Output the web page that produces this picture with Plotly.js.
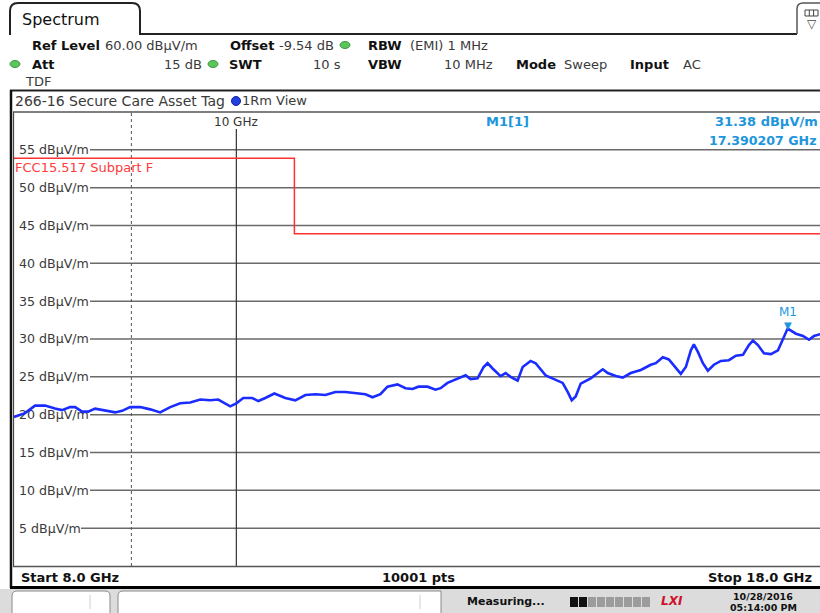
<!DOCTYPE html>
<html>
<head>
<meta charset="utf-8">
<script src="https://cdn.plot.ly/plotly-3.0.1.min.js"></script>
<style>
html,body{margin:0;padding:0;background:#fff;overflow:hidden;}
#chart{width:822px;height:613px;}
</style>
</head>
<body>
<div id="chart"></div>
<script>
// ---- data ----
const freqGHz = [8.000,8.089,8.171,8.253,8.336,8.395,8.463,8.506,8.566,8.618,8.678,8.766,8.855,8.917,8.989,9.080,9.172,9.264,9.358,9.452,9.548,9.644,9.742,9.820,9.890,9.939,10.000,10.070,10.161,10.223,10.295,10.389,10.504,10.610,10.717,10.826,10.935,11.045,11.157,11.270,11.383,11.464,11.556,11.638,11.755,11.850,11.934,12.006,12.115,12.213,12.275,12.361,12.461,12.549,12.587,12.650,12.740,12.817,12.868,12.933,13.037,13.103,13.169,13.262,13.329,13.436,13.504,13.640,13.778,13.875,13.945,14.002,14.058,14.129,14.271,14.372,14.445,14.517,14.635,14.738,14.857,15.007,15.158,15.235,15.342,15.435,15.544,15.622,15.701,15.780,15.828,15.892,15.972,16.052,16.149,16.263,16.394,16.510,16.627,16.727,16.795,16.879,16.981,17.101,17.222,17.326,17.390,17.536,17.660,17.767,17.856,18.000];
const levelDb = [19.7,20.2,21.2,21.2,20.8,20.6,21.0,21.0,20.4,20.4,20.8,20.6,20.3,20.5,21.0,21.0,20.7,20.3,21.0,21.5,21.6,22.0,21.9,22.0,21.4,21.1,21.5,22.2,22.2,21.8,22.2,22.8,22.2,21.9,22.6,22.7,22.6,23.0,23.0,22.8,22.7,22.3,22.7,23.7,24.0,23.5,23.4,23.7,23.7,23.3,23.5,24.2,24.6,25.0,25.2,24.7,24.8,26.3,26.8,26.1,25.1,25.5,25.0,24.5,26.3,27.1,26.8,25.2,24.6,24.2,23.0,21.9,22.4,24.1,24.8,25.5,26.0,25.5,25.1,24.9,25.5,25.9,26.6,26.8,27.6,27.3,26.1,25.4,26.3,28.5,29.3,28.3,26.8,25.8,26.6,27.1,27.2,27.8,27.9,29.2,29.8,29.2,28.1,28.0,28.5,30.3,31.38,30.7,30.4,29.9,30.4,30.7];

const limitFreq = [8.0, 10.6, 10.6, 18.0];
const limitLevel = [53.9, 53.9, 43.9, 43.9];
const limitLabel = "FCC15.517 Subpart F";

const gridLevels = [5,10,15,20,25,30,35,40,45,50,55];
const gridLabels = gridLevels.map(v => v + " dBµV/m");

const markerFreq = 17.390207;
const markerLevel = 31.38;
const markerName = "M1";

const startFreq = 8.0, stopFreq = 18.0;
const lineFreqSolid = 10.0;
const lineFreqDashed = 9.0;

// ---- geometry helpers ----
const W=822,H=613,L=14,T=112,PW=808,PH=454;
const px = x => (x - L) / PW;
const py = y => (T + PH - y) / PH;

const FONT = "DejaVu Sans, Verdana, sans-serif";
const annotations = [];
function txt(x, y, text, o) {
  o = o || {};
  annotations.push({
    xref:'paper', yref:'paper', x:px(x), y:py(y), text:text, showarrow:false,
    xanchor:o.anchor||'left', yanchor:'middle', borderpad:0,
    font:{family:FONT, size:o.size||13, color:o.color||'#3a3a3a', weight:o.bold?'bold':'normal'}
  });
}
const shapes = [];
function line(x0,y0,x1,y1,color,width,dash){
  shapes.push({type:'line',xref:'paper',yref:'paper',x0:px(x0),y0:py(y0),x1:px(x1),y1:py(y1),
    line:{color:color,width:width,dash:dash||'solid'}});
}
function rect(x0,y0,x1,y1,fill,lc,lw){
  shapes.push({type:'rect',xref:'paper',yref:'paper',x0:px(x0),y0:py(y0),x1:px(x1),y1:py(y1),
    fillcolor:fill,line:{color:lc||fill,width:lw||0}});
}
function pathP(points, color, width, fill){
  let d='';
  points.forEach(p=>{
    if(p[0]==='Q') d += 'Q'+px(p[1])+','+py(p[2])+' '+px(p[3])+','+py(p[4])+' ';
    else if(p[0]==='Z') d+='Z';
    else d += p[0]+px(p[1])+','+py(p[2])+' ';
  });
  shapes.push({type:'path',xref:'paper',yref:'paper',path:d,line:{color:color,width:width},fillcolor:fill||'rgba(0,0,0,0)'});
}
function dot(cx,cy,rx,ry,fill,lc){
  shapes.push({type:'circle',xref:'paper',yref:'paper',x0:px(cx-rx),x1:px(cx+rx),y0:py(cy+ry),y1:py(cy-ry),
    fillcolor:fill,line:{color:lc||fill,width:1}});
}

// ---- header ----
pathP([['M',10,35],['L',10,11],['Q',10,3,18,3],['L',132,3],['Q',140,3,140,11],['L',140,34],['L',797,34]],'#222',2);
pathP([['M',797,34],['L',797,9],['Q',797,3,803,3],['L',824,3]],'#555',1.5);
rect(805,10,818,16,'rgba(0,0,0,0)','#444',1);
line(809.3,10,809.3,16,'#444',1); line(813.6,10,813.6,16,'#444',1);
txt(811.5,24,'▽',{anchor:'center',size:12,color:'#444'});
txt(21,19,'Spectrum',{size:16,color:'#111'});

txt(31,45,'Ref Level',{bold:true,color:'#111'});
txt(104,45,'60.00 dBµV/m');
txt(229,45,'Offset',{bold:true,color:'#111'});
txt(278,45,'-9.54 dB');
dot(345,45,5,3.5,'#5cc45c','#3a9a3a');
txt(367,45,'RBW',{bold:true,color:'#111'});
txt(409,45,'(EMI) 1 MHz');

dot(15,64,5,3.5,'#5cc45c','#3a9a3a');
txt(31,64,'Att',{bold:true,color:'#111'});
txt(203,64,'15 dB',{anchor:'right'});
dot(213,64,5,3.5,'#5cc45c','#3a9a3a');
txt(228,64,'SWT',{bold:true,color:'#111'});
txt(342,64,'10 s',{anchor:'right'});
txt(367,64,'VBW',{bold:true,color:'#111'});
txt(494,64,'10 MHz',{anchor:'right'});
txt(515,64,'Mode',{bold:true,color:'#111'});
txt(563,64,'Sweep');
txt(629,64,'Input',{bold:true,color:'#111'});
txt(682,64,'AC');
txt(24,81,'TDF');

// graph window frame
line(10,90.5,824,90.5,'#222',2);
line(11,90,11,588,'#111',2.5);
line(13.6,112,13.6,566,'#333',1);
txt(14,101,'266-16 Secure Care Asset Tag',{size:14});
dot(236,101,4.5,4.5,'#2040e0','#10209a');
txt(241,101,'1Rm View');
line(13,112,824,112,'#555',1.5);
line(13,566.5,824,566.5,'#555',1.5);

// footer
txt(20,577,'Start ' + startFreq.toFixed(1) + ' GHz',{bold:true,color:'#111'});
txt(418,577,'10001 pts',{bold:true,color:'#111',anchor:'center'});
txt(813,577,'Stop ' + stopFreq.toFixed(1) + ' GHz',{bold:true,color:'#111',anchor:'right'});
line(10,587.5,824,587.5,'#000',3);

// status bar
rect(0,589,824,613,'#dcdcdc');
pathP([['M',12,614],['L',12,596],['Q',12,591,17,591],['L',105,591],['Q',110,591,110,596],['L',110,614]],'#8a8a8a',1,'#ffffff');
line(90,595,90,609,'#cfcfcf',1);
pathP([['M',118,614],['L',118,596],['Q',118,591,123,591],['L',441,591],['L',441,614]],'#8a8a8a',1,'#ffffff');
line(420,595,420,609,'#cfcfcf',1);
txt(466,601,'Measuring...',{bold:true,color:'#111',size:11});
for(let i=0;i<9;i++){
  const x0 = 570 + i*9;
  rect(x0,597,x0+8,607, i<2 ? '#111' : '#9c9c9c');
}
txt(672,601,'<i>LXI</i>',{bold:true,color:'#d0102a',size:12,anchor:'center'});
txt(763,596,'10/28/2016',{bold:true,color:'#111',size:9.5,anchor:'center'});
txt(763,607,'05:14:00 PM',{bold:true,color:'#111',size:9.5,anchor:'center'});

// ---- plot-area elements ----
gridLevels.forEach((v,i)=>{
  const startX = v < 10 ? 81 : 90;
  shapes.push({type:'line',xref:'paper',yref:'y',x0:px(startX),x1:1.02,y0:v,y1:v,layer:'below',
    line:{color:'#6a6a6a',width:1.5}});
});
shapes.push({type:'line',xref:'x',yref:'paper',x0:lineFreqDashed,x1:lineFreqDashed,y0:0,y1:1,layer:'below',
  line:{color:'#555',width:1,dash:'3px,3px'}});
shapes.push({type:'line',xref:'x',yref:'paper',x0:lineFreqSolid,x1:lineFreqSolid,y0:0,y1:py(129),layer:'below',
  line:{color:'#333',width:1.2}});
annotations.push({xref:'x',yref:'paper',x:Math.log10(lineFreqSolid),y:py(122),text:lineFreqSolid+' GHz',showarrow:false,
  xanchor:'center',yanchor:'middle',borderpad:0,font:{family:FONT,size:12,color:'#333'}});

// limit label
txt(14,168,limitLabel,{color:'#ff3b3b',size:13});

// marker info
const mc = '#1e96dc';
txt(485,122,markerName+'[1]',{color:mc,bold:true});
txt(714,122,markerLevel.toFixed(2)+' dBµV/m',{color:mc,bold:true});
txt(817,140,markerFreq.toFixed(6)+' GHz',{color:mc,bold:true,anchor:'right',size:12.6});

annotations.push({xref:'x',yref:'y',x:Math.log10(markerFreq),y:markerLevel,text:'▼',showarrow:false,
  xanchor:'center',yanchor:'bottom',yshift:-3,borderpad:0,font:{family:FONT,size:10,color:mc}});
annotations.push({xref:'x',yref:'y',x:Math.log10(markerFreq),y:markerLevel,text:markerName,showarrow:false,
  xanchor:'center',yanchor:'bottom',yshift:9,borderpad:0,font:{family:FONT,size:12,color:mc}});

const traces = [
  {x:limitFreq,y:limitLevel,type:'scatter',mode:'lines',line:{color:'#ff3030',width:1.5},hoverinfo:'skip'},
  {x:freqGHz,y:levelDb,type:'scatter',mode:'lines',line:{color:'#1a2cff',width:2.6},hoverinfo:'skip'}
];

const layout = {
  width:W,height:H,
  margin:{l:L,r:0,t:T,b:H-T-PH,pad:0},
  paper_bgcolor:'#ffffff',plot_bgcolor:'#ffffff',
  showlegend:false,
  xaxis:{type:'log',range:[Math.log10(startFreq),Math.log10(stopFreq)],showgrid:false,zeroline:false,
    showticklabels:false,ticks:'',showline:false,fixedrange:true},
  yaxis:{range:[0,60],showgrid:false,zeroline:false,showline:false,ticks:'',
    tickmode:'array',tickvals:gridLevels,ticktext:gridLabels,ticklabelposition:'inside',ticklabelstandoff:2,
    tickfont:{family:FONT,size:12.6,color:'#3a3a3a'},layer:'below traces',fixedrange:true},
  shapes:shapes,
  annotations:annotations
};
Plotly.newPlot('chart',traces,layout,{staticPlot:true,displayModeBar:false});
</script>
</body>
</html>
